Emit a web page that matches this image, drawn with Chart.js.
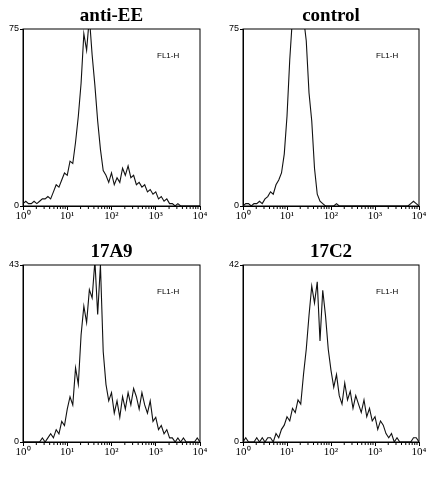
<!DOCTYPE html>
<html><head><meta charset="utf-8">
<script src="https://cdn.jsdelivr.net/npm/chart.js@4/dist/chart.umd.min.js"></script>
<style>
body{margin:0;background:#fff;width:437px;height:477px;position:relative;overflow:hidden}
.p{position:absolute}
</style></head><body>
<div class="p" style="left:0;top:0;width:218px;height:232px"><canvas id="c1"></canvas></div>
<div class="p" style="left:218px;top:0;width:219px;height:232px"><canvas id="c2"></canvas></div>
<div class="p" style="left:0;top:236px;width:218px;height:232px"><canvas id="c3"></canvas></div>
<div class="p" style="left:218px;top:236px;width:219px;height:232px"><canvas id="c4"></canvas></div>
<script>
// histogram channels, 16 per decade from 10^0 to 10^4
const titles = ['anti-EE', 'control', '17A9', '17C2'];
const yMax = [75, 75, 43, 42];
const xTickLabels = ['10\u2070', '10\u00b9', '10\u00b2', '10\u00b3', '10\u2074'];

const antiEE = [1,2,1,1,2,1,2,3,3,4,3,6,9,8,11,14,13,19,18,27,38,52,73,66,80,64,51,36,24,15,13,10,
  14,9,12,10,16,13,17,12,13,9,10,8,9,6,7,5,6,3,4,2,3,1,1,0,1,0,0,0,0,0,0,0,0];
const control = [0,1,1,0,1,1,2,1,3,4,6,5,9,11,14,22,38,62,80,80,80,80,80,70,48,36,16,5,2,1,0,0,
  0,0,1,0,0,0,0,0,0,0,0,0,0,0,0,0,0,0,0,0,0,0,0,0,0,0,0,0,0,1,2,1,0];
const c17A9 = [0,0,0,0,0,0,0,1,0,1,2,1,3,2,5,4,8,11,9,18,14,26,33,29,37,35,44,31,43,22,14,10,
  12,7,10,6,11,8,12,9,13,11,8,12,9,7,10,5,6,3,4,2,3,1,1,0,1,0,1,0,0,0,0,1,0];
const c17C2 = [0,1,0,0,0,1,0,1,0,1,1,0,2,1,3,4,6,5,8,7,10,9,16,22,30,37,33,38,24,36,30,22,
  17,13,16,11,9,14,10,12,8,11,9,7,10,6,8,5,6,3,5,4,2,1,2,0,1,0,0,0,0,0,1,1,0];
const seriesList = [antiEE, control, c17A9, c17C2];

const decoration = {
  id: 'decoration',
  afterDraw(chart, args, opts) {
    const {ctx, chartArea: a, scales: {x}} = chart;
    ctx.save();
    ctx.strokeStyle = '#000';
    ctx.lineWidth = 1;
    ctx.strokeRect(a.left, a.top, a.right - a.left, a.bottom - a.top);
    // minor log ticks
    ctx.beginPath();
    for (let d = 0; d < 4; d++) {
      for (let k = 2; k <= 9; k++) {
        const px = x.getPixelForValue(d + Math.log10(k));
        ctx.moveTo(px, a.bottom); ctx.lineTo(px, a.bottom + 3);
      }
    }
    ctx.stroke();
    ctx.fillStyle = '#000';
    ctx.font = 'bold 19px "Liberation Serif"';
    ctx.textAlign = 'center';
    ctx.fillText(opts.title, (a.left + a.right) / 2, a.top - 8);
    ctx.font = '8px "Liberation Sans"';
    ctx.textAlign = 'left';
    ctx.fillText('FL1-H', a.right - 43, a.top + 29);
    ctx.restore();
  }
};

function makeChart(id, idx) {
  const vals = seriesList[idx];
  new Chart(document.getElementById(id), {
    type: 'line',
    data: {datasets: [{
      data: vals.map((v, i) => ({x: i / 16, y: v})),
      borderColor: '#111', borderWidth: 1.1, pointRadius: 0, tension: 0, fill: false
    }]},
    options: {
      responsive: true, maintainAspectRatio: false, animation: false,
      layout: {padding: {top: 29, right: idx % 2 ? 18 : 18, left: 0, bottom: 0}},
      plugins: {legend: {display: false}, tooltip: {enabled: false},
        decoration: {title: titles[idx]}},
      scales: {
        x: {type: 'linear', min: 0, max: 4,
          afterFit(s) { s.height = 26; },
          afterBuildTicks(s) { s.ticks = [0,1,2,3,4].map(v => ({value: v})); },
          grid: {drawOnChartArea: false, tickLength: 4, color: '#000'},
          border: {color: '#000'},
          ticks: {color: '#000', font: {family: 'Liberation Serif', size: 11}, padding: 0,
            maxRotation: 0, callback: v => xTickLabels[v]}},
        y: {min: 0, max: yMax[idx],
          afterFit(s) { s.width = idx % 2 ? 25 : 23; },
          afterBuildTicks(s) { s.ticks = [{value: 0}, {value: yMax[idx]}]; },
          grid: {drawOnChartArea: false, tickLength: 3, color: '#000'},
          border: {color: '#000'},
          ticks: {color: '#000', font: {family: 'Liberation Sans', size: 9}, padding: 1}}
      }
    },
    plugins: [decoration]
  });
}
makeChart('c1', 0); makeChart('c2', 1); makeChart('c3', 2); makeChart('c4', 3);
</script>
</body></html>
